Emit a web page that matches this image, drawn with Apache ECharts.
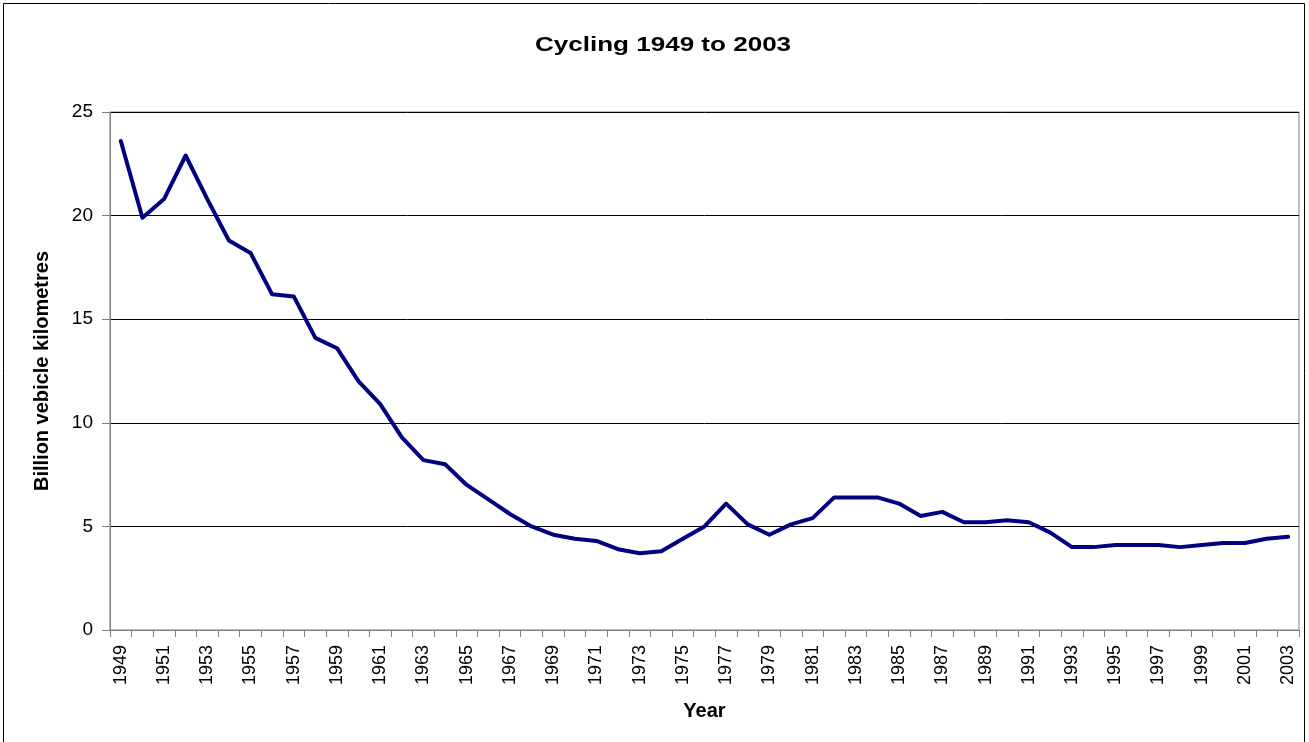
<!DOCTYPE html>
<html>
<head>
<meta charset="utf-8">
<script src="https://cdn.jsdelivr.net/npm/echarts@6/dist/echarts.min.js"></script>
<style>
html,body{margin:0;padding:0;background:#fff;}
#chart{width:1309px;height:742px;}
</style>
</head>
<body>
<div id="chart"></div>
<script>
const titleText = 'Cycling 1949 to 2003';
const xAxisName = 'Year';
const yAxisName = 'Billion vebicle kilometres';
const years = ['1949','1950','1951','1952','1953','1954','1955','1956','1957','1958',
  '1959','1960','1961','1962','1963','1964','1965','1966','1967','1968',
  '1969','1970','1971','1972','1973','1974','1975','1976','1977','1978',
  '1979','1980','1981','1982','1983','1984','1985','1986','1987','1988',
  '1989','1990','1991','1992','1993','1994','1995','1996','1997','1998',
  '1999','2000','2001','2002','2003'];
const cycling = [23.6,19.9,20.8,22.9,20.8,18.8,18.2,16.2,16.1,14.1,
  13.6,12.0,10.9,9.3,8.2,8.0,7.0,6.3,5.6,5.0,
  4.6,4.4,4.3,3.9,3.7,3.8,4.4,5.0,6.1,5.1,
  4.6,5.1,5.4,6.4,6.4,6.4,6.1,5.5,5.7,5.2,
  5.2,5.3,5.2,4.7,4.0,4.0,4.1,4.1,4.1,4.0,
  4.1,4.2,4.2,4.4,4.5];
const yTicks = [0, 5, 10, 15, 20, 25];

const chart = echarts.init(document.getElementById('chart'), null, {renderer: 'canvas'});
const FONT = '"Liberation Sans", Arial, sans-serif';
chart.setOption({
  animation: false,
  backgroundColor: '#ffffff',
  graphic: [
    {type: 'rect', shape: {x: 3.5, y: 3.5, width: 1301, height: 800},
     style: {fill: 'none', stroke: '#000', lineWidth: 1}, silent: true},
    {type: 'text', x: 663, y: 45, scaleX: 1.24,
     style: {text: titleText, font: 'bold 21px ' + FONT, fill: '#000', align: 'center', verticalAlign: 'middle'}}
  ],
  grid: {left: 110, right: 10, top: 112, bottom: 112, show: true, borderColor: '#808080', borderWidth: 1},
  xAxis: {
    type: 'category',
    data: years,
    boundaryGap: true,
    name: xAxisName,
    nameLocation: 'middle',
    nameGap: 71,
    nameTextStyle: {fontFamily: FONT, fontWeight: 'bold', fontSize: 20, color: '#000'},
    axisLine: {lineStyle: {color: '#808080', width: 1}},
    axisTick: {show: true, interval: 0, length: 7, lineStyle: {color: '#808080'}},
    axisLabel: {interval: 1, rotate: 90, margin: 15, fontFamily: FONT, fontSize: 18, color: '#000'},
    splitLine: {show: false}
  },
  yAxis: {
    type: 'value',
    min: yTicks[0],
    max: yTicks[yTicks.length - 1],
    interval: 5,
    name: yAxisName,
    nameLocation: 'middle',
    nameRotate: 90,
    nameGap: 58,
    nameTextStyle: {fontFamily: FONT, fontWeight: 'bold', fontSize: 20, color: '#000'},
    axisLine: {show: true, lineStyle: {color: '#808080', width: 1}},
    axisTick: {show: true, length: 8, lineStyle: {color: '#808080'}},
    axisLabel: {margin: 17, fontFamily: FONT, fontSize: 19, color: '#000'},
    splitLine: {show: true, lineStyle: {color: '#000', width: 1}}
  },
  series: [{
    type: 'line',
    data: cycling,
    showSymbol: false,
    symbol: 'none',
    lineStyle: {color: '#000080', width: 4, join: 'round', cap: 'round'},
    itemStyle: {color: '#000080'}
  }]
});
</script>
</body>
</html>
